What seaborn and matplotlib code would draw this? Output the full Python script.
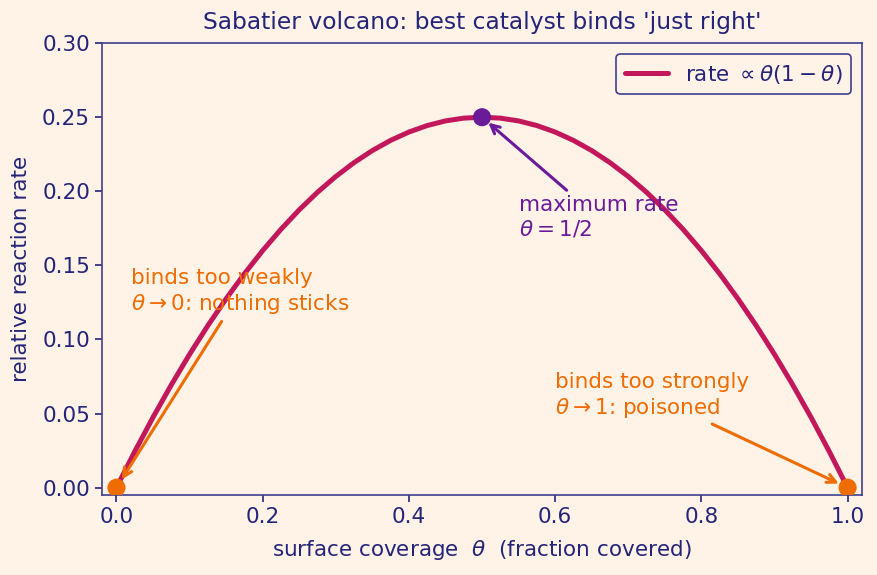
import matplotlib
matplotlib.use("Agg")
import matplotlib.pyplot as plt
import seaborn as sns
import pandas as pd

# Data
theta = [0.000, 0.025, 0.050, 0.075, 0.100, 0.125, 0.150, 0.175, 0.200, 0.225,
         0.250, 0.275, 0.300, 0.325, 0.350, 0.375, 0.400, 0.425, 0.450, 0.475,
         0.500, 0.525, 0.550, 0.575, 0.600, 0.625, 0.650, 0.675, 0.700, 0.725,
         0.750, 0.775, 0.800, 0.825, 0.850, 0.875, 0.900, 0.925, 0.950, 0.975, 1.000]
rate = [0.0, 0.024375, 0.0475, 0.069375, 0.09, 0.109375, 0.1275, 0.144375, 0.16, 0.174375,
        0.1875, 0.199375, 0.21, 0.219375, 0.2275, 0.234375, 0.24, 0.244375, 0.2475, 0.249375,
        0.25, 0.249375, 0.2475, 0.244375, 0.24, 0.234375, 0.2275, 0.219375, 0.21, 0.199375,
        0.1875, 0.174375, 0.16, 0.144375, 0.1275, 0.109375, 0.09, 0.069375, 0.0475, 0.024375, 0.0]
peak_x, peak_y = [0.5], [0.25]
ends_x, ends_y = [0.0, 1.0], [0.0, 0.0]
x_ticks = [0.0, 0.2, 0.4, 0.6, 0.8, 1.0]
y_ticks = [0.00, 0.05, 0.10, 0.15, 0.20, 0.25, 0.30]

BG = "#FFF2E6"
NAVY = "#24247A"
SPINE = "#3F3F8F"
CRIMSON = "#C2185B"
PURPLE = "#6A1B9A"
ORANGE = "#EF6C00"

sns.set_style("ticks")
plt.rcParams["font.family"] = ["DejaVu Sans"]
plt.rcParams["mathtext.fontset"] = "dejavusans"

fig, ax = plt.subplots(figsize=(8.78, 5.75), dpi=100)
fig.patch.set_facecolor(BG)
ax.set_facecolor(BG)

df = pd.DataFrame({"theta": theta, "rate": rate})
sns.lineplot(data=df, x="theta", y="rate", ax=ax, color=CRIMSON, linewidth=3.6,
             label=r"rate $\propto\theta(1-\theta)$", sort=False)
sns.scatterplot(x=peak_x, y=peak_y, ax=ax, color=PURPLE, s=170, edgecolor="none", zorder=5)
sns.scatterplot(x=ends_x, y=ends_y, ax=ax, color=ORANGE, s=170, edgecolor="none", zorder=5)

fs = 15.5
ax.annotate("binds too weakly\n" + r"$\theta\rightarrow0$: nothing sticks",
            xy=(0.0, 0.0), xytext=(0.02, 0.12), color=ORANGE, fontsize=fs,
            arrowprops=dict(arrowstyle="->", color=ORANGE, lw=2.2, shrinkB=7))
ax.annotate("maximum rate\n" + r"$\theta=1/2$",
            xy=(0.5, 0.25), xytext=(0.55, 0.17), color=PURPLE, fontsize=fs,
            arrowprops=dict(arrowstyle="->", color=PURPLE, lw=2.2, shrinkB=6))
ax.annotate("binds too strongly\n" + r"$\theta\rightarrow1$: poisoned",
            xy=(1.0, 0.0), xytext=(0.6, 0.05), color=ORANGE, fontsize=fs,
            arrowprops=dict(arrowstyle="->", color=ORANGE, lw=2.2, shrinkB=7))

ax.set_xlim(-0.02, 1.02)
ax.set_ylim(-0.005, 0.30)
ax.set_xticks(x_ticks)
ax.set_xticklabels([f"{v:.1f}" for v in x_ticks])
ax.set_yticks(y_ticks)
ax.set_yticklabels([f"{v:.2f}" for v in y_ticks])
ax.tick_params(colors=NAVY, labelsize=fs, length=5, width=1.2)
for s in ax.spines.values():
    s.set_visible(True)
    s.set_color(SPINE)
    s.set_linewidth(1.2)

ax.set_title("Sabatier volcano: best catalyst binds 'just right'", color=NAVY, fontsize=16.8, pad=10)
ax.set_xlabel(r"surface coverage  $\theta$  (fraction covered)", color=NAVY, fontsize=fs, labelpad=8)
ax.set_ylabel("relative reaction rate", color=NAVY, fontsize=fs, labelpad=8)

leg = ax.legend(loc="upper right", fontsize=fs, frameon=True, fancybox=True)
leg.get_frame().set_edgecolor(SPINE)
leg.get_frame().set_facecolor(BG)
leg.get_frame().set_linewidth(1.2)
leg.get_frame().set_alpha(1)
for t in leg.get_texts():
    t.set_color(NAVY)

fig.subplots_adjust(left=0.116, right=0.982, top=0.925, bottom=0.139)
fig.savefig("out.png", dpi=100, facecolor=BG)
